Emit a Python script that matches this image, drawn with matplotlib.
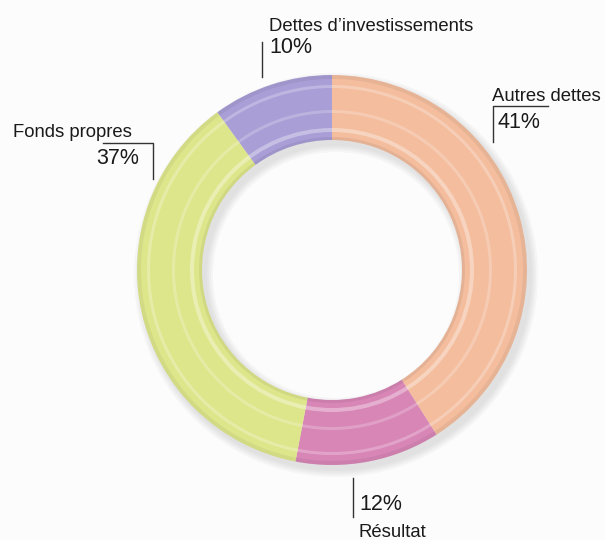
import matplotlib.pyplot as plt
from matplotlib.patches import Wedge

# donut data, clockwise from 12 o'clock
labels = ['Autres dettes', 'Résultat', 'Fonds propres', 'Dettes d’investissements']
shares = [41, 12, 37, 10]
colors = ['#F4BD9E', '#D886B6', '#DEE68B', '#A99ED6']

W, H = 605, 540
CX, CY = 332, 540 - 270
R_OUT, R_IN = 195, 130


def Y(y):
    # reference pixel rows count from the top
    return H - y


def ring(ax, r, w, color, alpha, dx=0, dy=0, z=1):
    ax.add_patch(Wedge((CX + dx, CY + dy), r, 0, 360, width=w,
                       facecolor=color, edgecolor='none', alpha=alpha, zorder=z))


def main():
    fig = plt.figure(figsize=(W / 100, H / 100), dpi=100)
    fig.patch.set_facecolor('#FCFCFC')
    ax = fig.add_axes([0, 0, 1, 1])

    # soft drop shadow under the ring
    for k in range(4):
        ring(ax, R_OUT + 1 + k * 2, R_OUT - R_IN + 2 + k * 4, '#606060', 0.045,
             dx=4, dy=-5, z=0)

    ax.pie(shares, colors=colors, startangle=90, counterclock=False,
           radius=R_OUT, center=(CX, CY),
           wedgeprops=dict(width=R_OUT - R_IN, edgecolor='none'))

    # glossy stripes
    ring(ax, R_IN + 12, 4, 'white', 0.35, z=3)
    ring(ax, R_IN + 30, 3, 'white', 0.22, z=3)
    ring(ax, R_OUT - 10, 3, 'white', 0.25, z=3)
    ring(ax, R_IN + 3, 3, '#000000', 0.06, z=3)
    ring(ax, R_OUT, 4, '#000000', 0.05, z=3)

    ax.set_xlim(0, W)
    ax.set_ylim(0, H)
    ax.set_aspect('equal')
    ax.axis('off')

    lab = dict(fontsize=13.3, family=['Liberation Sans', 'DejaVu Sans'],
               color='#1A1A1A', va='baseline')
    pct = dict(fontsize=15.5, family=['Liberation Sans Narrow', 'Liberation Sans', 'DejaVu Sans'],
               color='#1A1A1A', va='baseline')
    line = dict(color='#333333', lw=1.0)

    # Dettes d'investissements
    ax.text(269, Y(31), labels[3], **lab)
    ax.text(269, Y(53), f'{shares[3]}%', **pct)
    ax.plot([261.5, 261.5], [Y(42), Y(77)], **line)

    # Autres dettes
    ax.text(492, Y(101), labels[0], **lab)
    ax.text(497, Y(128), f'{shares[0]}%', **pct)
    ax.plot([548, 493, 493], [Y(106), Y(106), Y(142)], **line)

    # Fonds propres
    ax.text(13, Y(137), labels[2], **lab)
    ax.text(139, Y(164), f'{shares[2]}%', ha='right', **pct)
    ax.plot([103, 153, 153], [Y(143), Y(143), Y(179)], **line)

    # Résultat
    ax.text(359, Y(510), f'{shares[1]}%', **pct)
    ax.text(358, Y(537), labels[1], **lab)
    ax.plot([353, 353], [Y(478), Y(517)], **line)

    fig.savefig('out.png', dpi=100, facecolor=fig.get_facecolor())


if __name__ == '__main__':
    main()
